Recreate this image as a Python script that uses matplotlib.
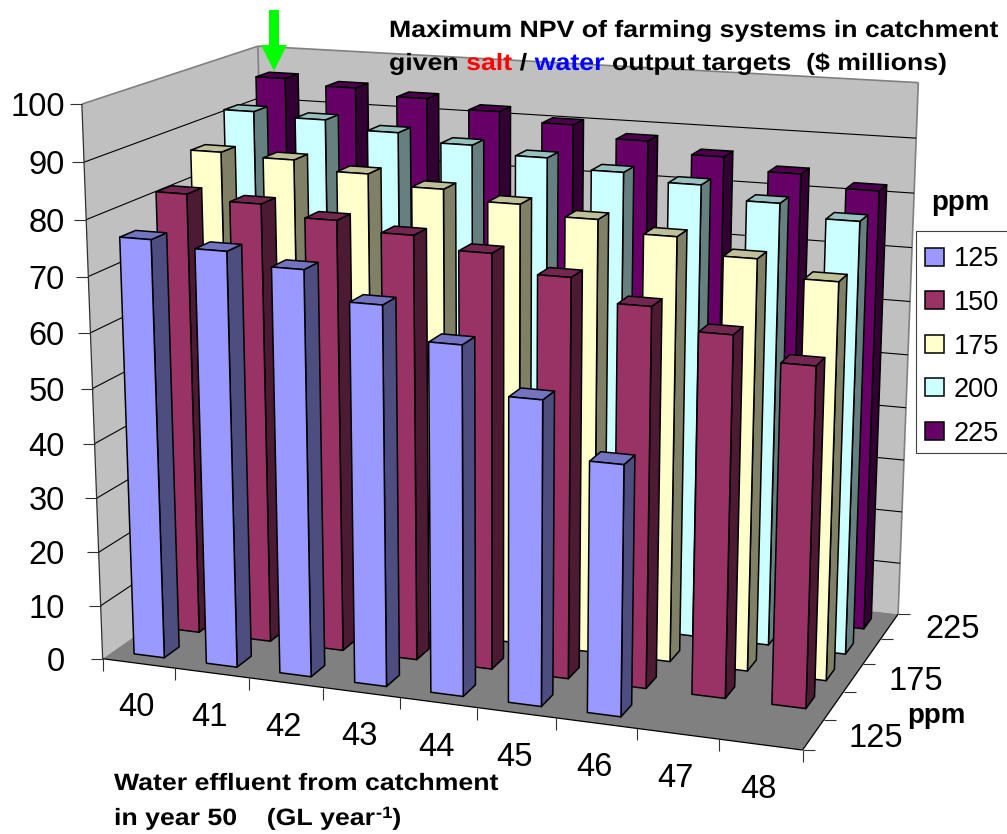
import numpy as np
import matplotlib
matplotlib.use("Agg")
import matplotlib.pyplot as plt
import matplotlib.patheffects as pe
from matplotlib.patches import Polygon
from matplotlib.transforms import Affine2D

plt.rcParams['font.family'] = ['Liberation Sans', 'DejaVu Sans']

effluent = ['40', '41', '42', '43', '44', '45', '46', '47', '48']
ppm_labels = ['125', '150', '175', '200', '225']
value_ticks = [0, 10, 20, 30, 40, 50, 60, 70, 80, 90, 100]

# NPV in $ millions, one list per ppm target. 125 ppm has no solution at 47 and 48
npv_125 = [76.4, 75.4, 73.3, 68.3, 62.6, 54.4, 44.6]
npv_150 = [81.7, 80.9, 79.0, 77.4, 75.3, 72.2, 68.3, 64.6, 60.5]
npv_175 = [86.7, 86.2, 84.6, 82.8, 81.1, 79.4, 77.4, 74.6, 71.7]
npv_200 = [91.8, 91.1, 89.6, 88.2, 86.8, 85.1, 83.8, 81.5, 79.3]
npv_225 = [95.8, 94.8, 93.6, 92.0, 90.4, 88.3, 86.3, 84.1, 82.0]
series = [npv_125, npv_150, npv_175, npv_200, npv_225]

front_cols = ['#9999FF', '#993366', '#FFFFCC', '#CCFFFF', '#660066']
side_cols = ['#4D4D80', '#4D1A33', '#808066', '#668080', '#330033']
top_cols = ['#7373BF', '#732650', '#BFBF99', '#99BFBF', '#4D004D']

# camera: (category, depth, value) -> picture pixel, fitted on the chart box corners
world = np.array([[0,0,0],[9,0,0],[9,5,0],[0,5,0],[0,0,100],[0,5,100],[9,5,100]], float)
pix = np.array([[103,656],[803,752],[898,612],[268,545],[81,105],[259,45],[918,83]], float)
rows = []
for (X, Y, Z), (u, v) in zip(world, pix):
	rows.append([X, Y, Z, 1, 0, 0, 0, 0, -u*X, -u*Y, -u*Z, -u])
	rows.append([0, 0, 0, 0, X, Y, Z, 1, -v*X, -v*Y, -v*Z, -v])
P = np.linalg.svd(np.array(rows))[2][-1].reshape(3, 4)

def proj(x, y, z):
	p = P @ np.array([x, y, z, 1.0])
	return p[0]/p[2], p[1]/p[2]

fig = plt.figure(figsize=(10.07, 8.34), dpi=100)
ax = fig.add_axes([0, 0, 1, 1])
ax.set_xlim(0, 1007)
ax.set_ylim(834, 0)
ax.axis('off')

def face(pts, col, edge='black', lw=1.1, z=2):
	ax.add_patch(Polygon([proj(*p) for p in pts], closed=True, facecolor=col, edgecolor=edge, linewidth=lw, joinstyle='round', zorder=z))

def seg(a, b, col='black', lw=0.7, z=1):
	ax.plot(*zip(a, b), color=col, lw=lw, zorder=z, solid_capstyle='butt')

nx, ny, zmax = len(effluent), len(ppm_labels), value_ticks[-1]

# walls and floor
face([(0,0,0),(0,ny,0),(0,ny,zmax),(0,0,zmax)], '#C0C0C0', 'none', z=0)
face([(0,ny,0),(nx,ny,0),(nx,ny,zmax),(0,ny,zmax)], '#C0C0C0', 'none', z=0)
face([(0,0,0),(nx,0,0),(nx,ny,0),(0,ny,0)], '#808080', 'none', z=0)
seg(proj(0,0,zmax), proj(0,ny,zmax), '#808080', 1.2)
seg(proj(0,ny,zmax), proj(nx,ny,zmax), '#808080', 1.2)
seg(proj(nx,ny,zmax), proj(nx,ny,0), '#808080', 1.2)
seg(proj(0,ny,zmax), proj(0,ny,0), '#808080', 1.2)

for t in value_ticks[1:-1]:
	seg(proj(0,0,t), proj(0,ny,t), lw=0.8)
	seg(proj(0,ny,t), proj(nx,ny,t), lw=0.8)

# axes lines, ticks and tick labels
seg(proj(0,0,0), proj(0,0,zmax), '#303030', 0.9, 3)
seg(proj(0,0,0), proj(nx,0,0), 'black', 0.9, 3)
seg(proj(nx,0,0), proj(nx,ny,0), 'black', 0.9, 3)

for t in value_ticks:
	u, v = proj(0, 0, t)
	seg((u-12, v), (u, v), '#303030', 0.8, 3)
	ax.text(65, v, str(t), ha='right', va='center_baseline', fontsize=23.5, color='black')

for i in range(nx+1):
	u, v = proj(i, 0, 0)
	seg((u, v), (u, v+12), '#303030', 0.8, 3)
for i, lab in enumerate(effluent):
	u, v = proj(i+.5, 0, 0)
	ax.text(u-2, v+41, lab, ha='center', va='center_baseline', fontsize=23.5, color='black')

for j in range(ny+1):
	u, v = proj(nx, j, 0)
	seg((u, v), (u+12, v), '#303030', 0.8, 3)
for j in range(0, ny, 2):
	u, v = proj(nx, j+.5, 0)
	ax.text(u+90, v, ppm_labels[j], ha='right', va='center_baseline', fontsize=23.5, color='black')

# bars, back row first so the front rows paint over them
lo, hi = .29, .71
for j in range(ny-1, -1, -1):
	for i, val in enumerate(series[j]):
		x0, x1, y0, y1 = i+lo, i+hi, j+lo, j+hi
		face([(x1,y0,0),(x1,y1,0),(x1,y1,val),(x1,y0,val)], side_cols[j])
		face([(x0,y0,val),(x1,y0,val),(x1,y1,val),(x0,y1,val)], top_cols[j])
		face([(x0,y0,0),(x1,y0,0),(x1,y0,val),(x0,y0,val)], front_cols[j])

# green arrow pointing at the best bar
arrow_x = [269, 279, 279, 287, 274, 261, 269]
arrow_y = [10, 10, 45, 45, 71, 45, 45]
ax.add_patch(Polygon(list(zip(arrow_x, arrow_y)), closed=True, facecolor='#00FF00', edgecolor='none', zorder=5))

# legend, the box runs off the right side of the picture
ax.plot([1010, 916, 916, 1010], [231, 231, 453, 453], color='#404040', lw=0.8, zorder=4)
ax.text(960, 210, 'ppm', ha='center', va='baseline', fontsize=20, fontweight='bold')
for k, lab in enumerate(ppm_labels):
	yc = 256.5 + k*43.6
	ax.add_patch(Polygon([(925,yc-9),(944,yc-9),(944,yc+9),(925,yc+9)], closed=True, facecolor=front_cols[k], edgecolor='black', linewidth=1.1, zorder=5))
	ax.text(954, yc, lab, ha='left', va='center_baseline', fontsize=19.5, color='black')

ax.text(936.5, 723, 'ppm', ha='center', va='baseline', fontsize=20, fontweight='bold')

# the original bold text is set wide, so glyphs get stretched sideways
class Widen(pe.AbstractPathEffect):
	def __init__(self, s):
		super().__init__()
		self.s = s
	def draw_path(self, renderer, gc, tpath, affine, rgbFace=None):
		renderer.draw_path(gc, tpath, Affine2D().scale(self.s, 1) + affine, rgbFace)

# texts with coloured or raised runs are placed one after the other
rend = fig.canvas.get_renderer()
def run_text(x, y, runs, size=17, stretch=1.13):
	for txt, col, raised in runs:
		txt = txt.replace(' ', '\u00a0')
		t = ax.text(x, y - (7 if raised else 0), txt, color=col, fontsize=size*(.7 if raised else 1), fontweight='bold', ha='left', va='baseline', zorder=6)
		bb = t.get_window_extent(rend)
		t.set_path_effects([Widen(stretch)])
		x += bb.width*stretch

run_text(389, 37, [('Maximum NPV of farming systems in catchment', 'black', False)])
run_text(389, 70, [('given ', 'black', False), ('salt', 'red', False), (' / ', 'black', False), ('water', 'blue', False), (' output targets  ($ millions)', 'black', False)])
run_text(114, 790, [('Water effluent from catchment', 'black', False)])
run_text(114, 825, [('in year 50    (GL year', 'black', False), ('-1', 'black', True), (')', 'black', False)])

fig.savefig('out.png', dpi=100)
